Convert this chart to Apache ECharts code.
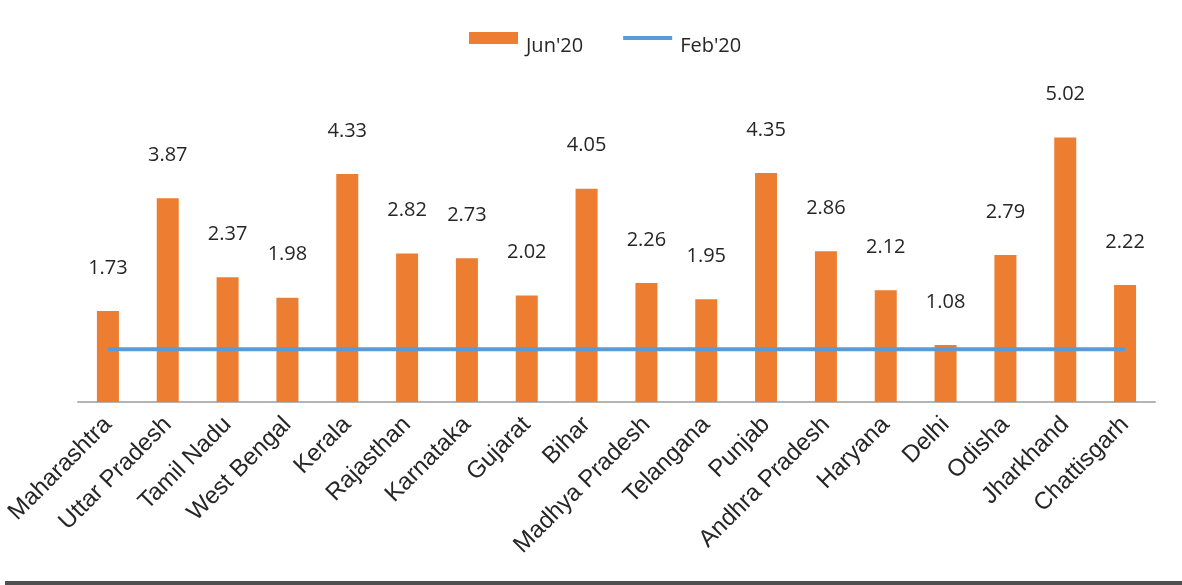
<!DOCTYPE html>
<html>
<head>
<meta charset="utf-8">
<script src="https://cdn.jsdelivr.net/npm/echarts@6/dist/echarts.min.js"></script>
<style>
  html, body { margin: 0; padding: 0; background: #fff; }
  #chart { width: 1182px; height: 585px; }
</style>
</head>
<body>
<div id="chart"></div>
<script>
// 州名
const states = ['Maharashtra', 'Uttar Pradesh', 'Tamil Nadu', 'West Bengal', 'Kerala', 'Rajasthan',
  'Karnataka', 'Gujarat', 'Bihar', 'Madhya Pradesh', 'Telangana', 'Punjab', 'Andhra Pradesh',
  'Haryana', 'Delhi', 'Odisha', 'Jharkhand', 'Chattisgarh'];
// Jun'20 数值
const jun20 = [1.73, 3.87, 2.37, 1.98, 4.33, 2.82, 2.73, 2.02, 4.05, 2.26, 1.95, 4.35, 2.86, 2.12, 1.08, 2.79, 5.02, 2.22];
// Feb'20 基准
const feb20 = [1, 1, 1, 1, 1, 1, 1, 1, 1, 1, 1, 1, 1, 1, 1, 1, 1, 1];

const myChart = echarts.init(document.getElementById('chart'));

const option = {
  animation: false,
  legend: {
    left: 469,
    top: 32,
    padding: 0,
    itemWidth: 49,
    itemHeight: 12,
    itemGap: 40,
    symbolKeepAspect: true,
    formatter: function (name) {
      return '{t|' + name + '}';
    },
    textStyle: {
      fontFamily: 'Open Sans',
      fontSize: 20,
      color: '#262626',
      rich: {
        t: {
          fontFamily: 'Open Sans',
          fontSize: 20,
          color: '#262626',
          padding: [16, 0, 0, 3]
        }
      }
    },
    data: [
      { name: "Jun'20", icon: 'rect' },
      { name: "Feb'20", icon: 'path://M0,0H49V4H0Z' }
    ]
  },
  grid: {
    left: 78,
    right: 27,
    top: 86,
    bottom: 183
  },
  xAxis: {
    type: 'category',
    data: states,
    axisLine: { lineStyle: { color: '#b4b4b4', width: 2 } },
    axisTick: { show: false },
    axisLabel: {
      rotate: 45,
      interval: 0,
      margin: 19,
      fontFamily: 'Liberation Sans',
      fontSize: 24,
      color: '#262626'
    }
  },
  yAxis: {
    type: 'value',
    min: 0,
    max: 6,
    show: false
  },
  series: [
    {
      name: "Jun'20",
      type: 'bar',
      data: jun20,
      barWidth: 22,
      itemStyle: { color: '#ed7d31' },
      label: {
        show: true,
        position: 'top',
        distance: 33,
        fontFamily: 'Open Sans',
        fontSize: 20,
        color: '#262626'
      }
    },
    {
      name: "Feb'20",
      type: 'line',
      data: feb20,
      symbol: 'none',
      z: 5,
      lineStyle: { color: '#5b9bd5', width: 4 },
      itemStyle: { color: '#5b9bd5' }
    }
  ],
  graphic: [
    {
      type: 'rect',
      left: 5,
      top: 581,
      shape: { width: 1177, height: 4 },
      style: { fill: '#505050' }
    }
  ]
};

myChart.setOption(option);
</script>
</body>
</html>
